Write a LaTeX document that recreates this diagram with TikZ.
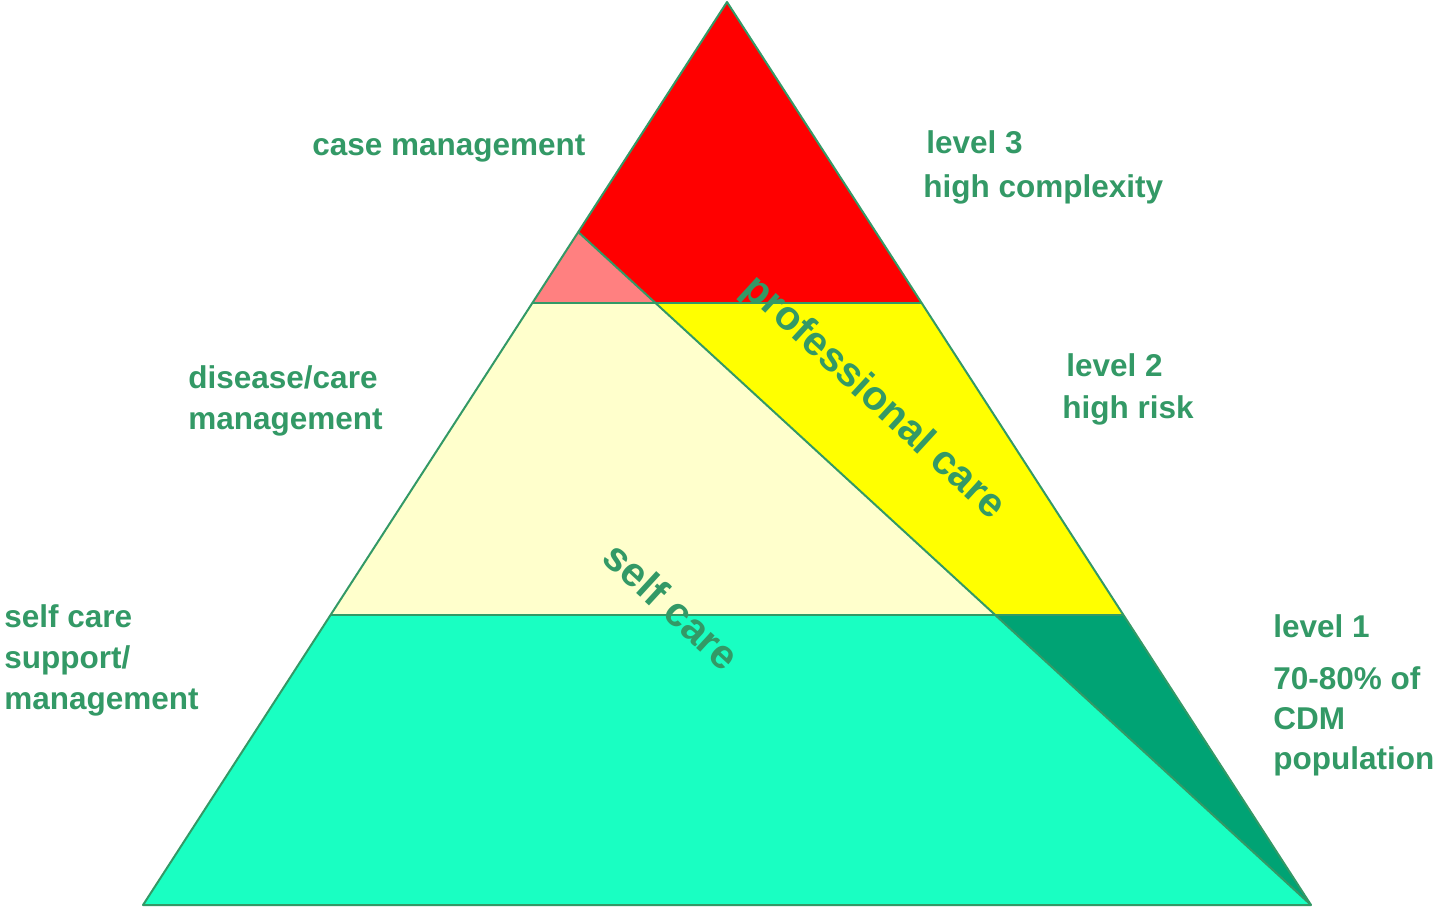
\documentclass[tikz,border=0pt]{standalone}
\usepackage{fontspec}
\setmainfont{Liberation Sans}
\definecolor{txtgreen}{HTML}{339966}
\definecolor{linegreen}{HTML}{339966}
\definecolor{toplevel}{HTML}{FF0000}
\definecolor{pinkpart}{HTML}{FF8080}
\definecolor{midlevel}{HTML}{FFFF00}
\definecolor{paleyellow}{HTML}{FFFFCC}
\definecolor{darkteal}{HTML}{00A374}
\definecolor{aqua}{HTML}{19FFC2}
\begin{document}
\begin{tikzpicture}[x=0.5pt,y=-0.5pt,
  region/.style={draw=linegreen,line width=1pt,line join=round},
  lbl/.style={text=txtgreen,font=\fontsize{15.75}{20.5}\selectfont\bfseries,inner sep=0,anchor=base west},
  rotlbl/.style={text=txtgreen,font=\fontsize{20.5}{24}\selectfont\bfseries,inner sep=0,rotate=-42.56}]
\useasboundingbox (0,0) rectangle (1433,907);
% key points
\coordinate (A) at (727,2);
\coordinate (BL) at (143,905);
\coordinate (BR) at (1311,905);
\coordinate (L1) at (532.3,303);
\coordinate (R1) at (921.7,303);
\coordinate (L2) at (330.6,615);
\coordinate (R2) at (1123.4,615);
\coordinate (D0) at (578.2,232);
\coordinate (D1) at (655.5,303);
\coordinate (D2) at (995.2,615);
% regions
\fill[aqua] (L2) -- (D2) -- (BR) -- (BL) -- cycle;
\fill[darkteal] (D2) -- (R2) -- (BR) -- cycle;
\fill[paleyellow] (L1) -- (D1) -- (D2) -- (L2) -- cycle;
\fill[midlevel] (D1) -- (R1) -- (R2) -- (D2) -- cycle;
\fill[pinkpart] (D0) -- (L1) -- (D1) -- cycle;
\fill[toplevel] (A) -- (D0) -- (D1) -- (R1) -- cycle;
% outlines
\draw[region] (A) -- (BR) -- (BL) -- cycle;
\draw[region] (L1) -- (R1);
\draw[region] (L2) -- (R2);
\draw[region] (D0) -- (BR);
% rotated labels
\node[rotlbl] (prof) at (873,398) {professional care};
\node[rotlbl] (self) at (672,606) {self care};
% left labels
\node[lbl] (cm) at (312,155) {case management};
\node[lbl] (dc1) at (188,388) {disease/care};
\node[lbl] (dc2) at (188,429) {management};
\node[lbl] (sc1) at (4,627) {self care};
\node[lbl] (sc2) at (4,668) {support/};
\node[lbl] (sc3) at (4,709) {management};
% right labels
\node[lbl] (l3a) at (926,153) {level 3};
\node[lbl] (l3b) at (923,197) {high complexity};
\node[lbl] (l2a) at (1066,376) {level 2};
\node[lbl] (l2b) at (1062,418) {high risk};
\node[lbl] (l1a) at (1273,637) {level 1};
\node[lbl] (l1b) at (1273,689) {70-80\% of};
\node[lbl] (l1c) at (1273,729) {CDM};
\node[lbl] (l1d) at (1273,769) {population};
\end{tikzpicture}
\end{document}
